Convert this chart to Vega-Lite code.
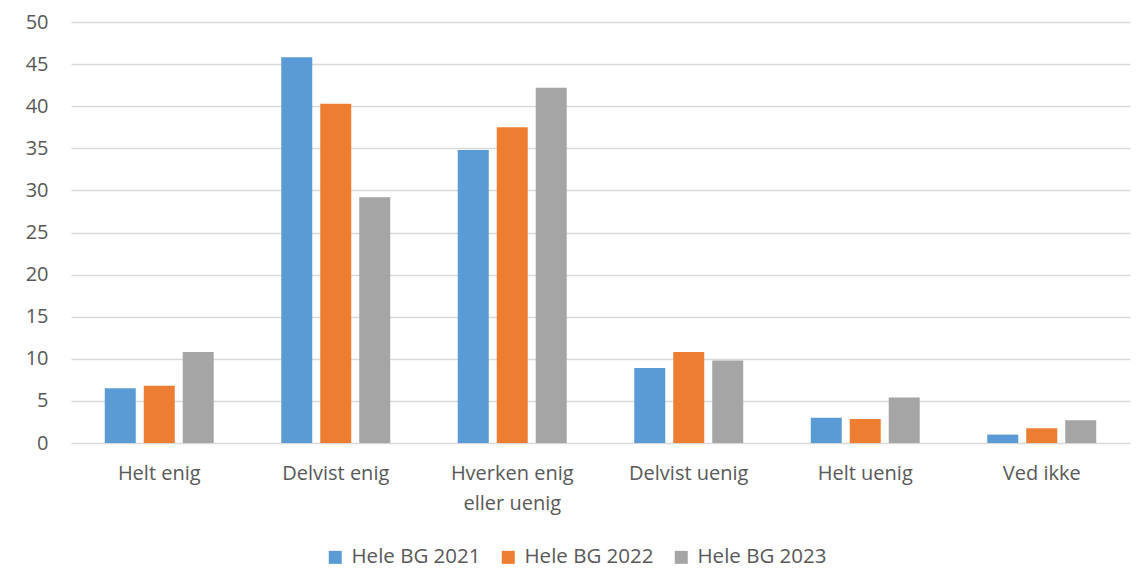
{
  "$schema": "https://vega.github.io/schema/vega-lite/v6.json",
  "width": 1059,
  "height": 421,
  "autosize": {"type": "none"},
  "padding": {"left": 71, "top": 22, "right": 15, "bottom": 145},
  "background": "white",
  "config": {
    "view": {"stroke": null},
    "font": "Open Sans",
    "axis": {"labelFont": "Open Sans", "labelColor": "#595959", "labelFontSize": 20},
    "legend": {"labelFont": "Open Sans", "labelColor": "#595959", "labelFontSize": 20.5}
  },
  "data": {
    "values": [
      {"kategori": "Helt enig", "serie": "Hele BG 2021", "verdi": 6.5},
      {"kategori": "Helt enig", "serie": "Hele BG 2022", "verdi": 6.8},
      {"kategori": "Helt enig", "serie": "Hele BG 2023", "verdi": 10.8},
      {"kategori": "Delvist enig", "serie": "Hele BG 2021", "verdi": 45.8},
      {"kategori": "Delvist enig", "serie": "Hele BG 2022", "verdi": 40.3},
      {"kategori": "Delvist enig", "serie": "Hele BG 2023", "verdi": 29.2},
      {"kategori": "Hverken enig eller uenig", "serie": "Hele BG 2021", "verdi": 34.8},
      {"kategori": "Hverken enig eller uenig", "serie": "Hele BG 2022", "verdi": 37.5},
      {"kategori": "Hverken enig eller uenig", "serie": "Hele BG 2023", "verdi": 42.2},
      {"kategori": "Delvist uenig", "serie": "Hele BG 2021", "verdi": 8.9},
      {"kategori": "Delvist uenig", "serie": "Hele BG 2022", "verdi": 10.8},
      {"kategori": "Delvist uenig", "serie": "Hele BG 2023", "verdi": 9.8},
      {"kategori": "Helt uenig", "serie": "Hele BG 2021", "verdi": 3.0},
      {"kategori": "Helt uenig", "serie": "Hele BG 2022", "verdi": 2.85},
      {"kategori": "Helt uenig", "serie": "Hele BG 2023", "verdi": 5.4},
      {"kategori": "Ved ikke", "serie": "Hele BG 2021", "verdi": 1.0},
      {"kategori": "Ved ikke", "serie": "Hele BG 2022", "verdi": 1.75},
      {"kategori": "Ved ikke", "serie": "Hele BG 2023", "verdi": 2.7}
    ]
  },
  "mark": {"type": "bar"},
  "encoding": {
    "x": {
      "field": "kategori",
      "type": "nominal",
      "sort": null,
      "scale": {"paddingInner": 0, "paddingOuter": 0},
      "axis": {
        "title": null,
        "labelAngle": 0,
        "domain": false,
        "ticks": false,
        "labelPadding": 20,
        "labelLineHeight": 30,
        "labelBaseline": "top",
        "labelFontSize": 20,
        "labelExpr": "datum.label == 'Hverken enig eller uenig' ? ['Hverken enig', 'eller uenig'] : datum.label"
      }
    },
    "xOffset": {
      "field": "serie",
      "type": "nominal",
      "scale": {"paddingInner": 0.205, "paddingOuter": 0.866}
    },
    "y": {
      "field": "verdi",
      "type": "quantitative",
      "scale": {"domain": [0, 50], "nice": false},
      "axis": {
        "title": null,
        "values": [0, 5, 10, 15, 20, 25, 30, 35, 40, 45, 50],
        "domain": false,
        "ticks": false,
        "labelPadding": 23,
        "labelFontSize": 20,
        "gridColor": "#d9d9d9",
        "gridWidth": 1.3
      }
    },
    "color": {
      "field": "serie",
      "type": "nominal",
      "scale": {"range": ["#5B9BD5", "#ED7D31", "#A5A5A5"]},
      "legend": {
        "title": null,
        "orient": "none",
        "direction": "horizontal",
        "legendX": 254,
        "legendY": 525,
        "symbolType": "square",
        "symbolSize": 169,
        "symbolStrokeWidth": 0,
        "labelOffset": 6,
        "labelFontSize": 20.5,
        "columnPadding": 17,
        "padding": 0
      }
    }
  }
}
